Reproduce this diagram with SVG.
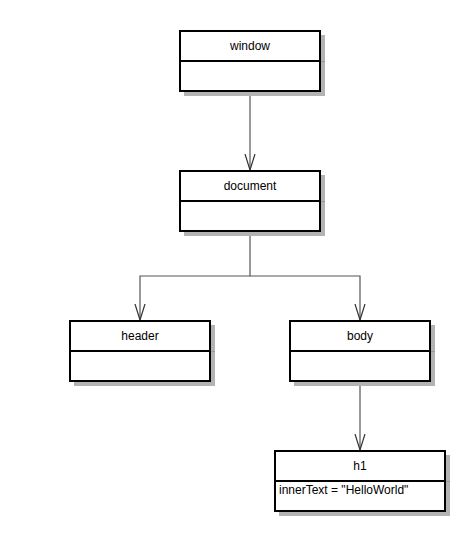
<svg xmlns="http://www.w3.org/2000/svg" width="470" height="543" viewBox="0 0 470 543">
<style>
.shadow{fill:#b3b3b3;}
.box{fill:#fff;stroke:#000;stroke-width:2;}
.div{stroke:#000;stroke-width:2;}
.tick{stroke:#999;stroke-width:1;}
.t{font-family:"Liberation Sans",Arial,sans-serif;font-size:12px;fill:#000;}
.c{text-anchor:middle;}
.edge{fill:none;stroke:#555;stroke-width:1.2;}
</style>
<defs>
<marker id="open" markerWidth="18" markerHeight="12" refX="16" refY="6" orient="auto" markerUnits="userSpaceOnUse" viewBox="0 0 18 12">
<path d="M0,1 L16,6 L0,11" fill="none" stroke="#333" stroke-width="1.2"/>
</marker>
</defs>
<rect width="470" height="543" fill="#fff"/>
<g id="connectors">
<path class="edge" d="M250,92 V170" marker-end="url(#open)"/>
<path class="edge" d="M250,232 V276 H140 V320" marker-end="url(#open)"/>
<path class="edge" d="M250,276 H360 V320" marker-end="url(#open)"/>
<path class="edge" d="M360,382 V450" marker-end="url(#open)"/>
</g>
<g id="window">
<rect class="shadow" x="184" y="35" width="141" height="61"/>
<line class="tick" x1="320" y1="61.5" x2="325" y2="61.5"/>
<rect class="box" x="180" y="31" width="140" height="60"/>
<line class="div" x1="180" y1="61" x2="320" y2="61"/>
<text class="t c" x="250" y="50">window</text>
</g>
<g id="document">
<rect class="shadow" x="184" y="175" width="141" height="61"/>
<line class="tick" x1="320" y1="201.5" x2="325" y2="201.5"/>
<rect class="box" x="180" y="171" width="140" height="60"/>
<line class="div" x1="180" y1="201" x2="320" y2="201"/>
<text class="t c" x="250" y="190">document</text>
</g>
<g id="header">
<rect class="shadow" x="74" y="325" width="141" height="61"/>
<line class="tick" x1="210" y1="351.5" x2="215" y2="351.5"/>
<rect class="box" x="70" y="321" width="140" height="60"/>
<line class="div" x1="70" y1="351" x2="210" y2="351"/>
<text class="t c" x="140" y="340">header</text>
</g>
<g id="body">
<rect class="shadow" x="294" y="325" width="141" height="61"/>
<line class="tick" x1="430" y1="351.5" x2="435" y2="351.5"/>
<rect class="box" x="290" y="321" width="140" height="60"/>
<line class="div" x1="290" y1="351" x2="430" y2="351"/>
<text class="t c" x="360" y="340">body</text>
</g>
<g id="h1">
<rect class="shadow" x="279" y="455" width="171" height="61"/>
<line class="tick" x1="445" y1="481.5" x2="450" y2="481.5"/>
<rect class="box" x="275" y="451" width="170" height="60"/>
<line class="div" x1="275" y1="481" x2="445" y2="481"/>
<text class="t c" x="360" y="470">h1</text>
<text class="t" x="279" y="494">innerText = "HelloWorld"</text>
</g>
</svg>
